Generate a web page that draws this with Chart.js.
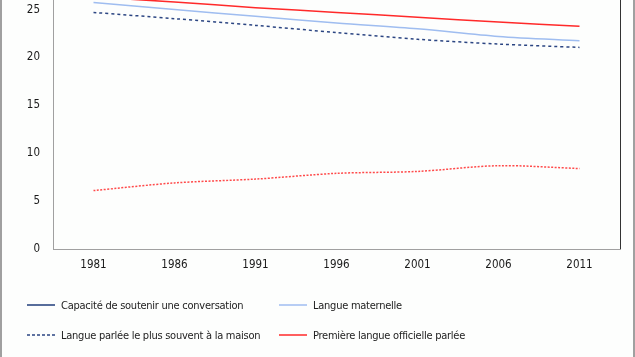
<!DOCTYPE html>
<html>
<head>
<meta charset="utf-8">
<script src="https://cdn.jsdelivr.net/npm/chart.js@4"></script>
<style>
  html, body { margin: 0; padding: 0; background: #fff; }
  #frame { position: relative; width: 635px; height: 357px; box-sizing: border-box;
           border-left: 2px solid #a0a0a0; border-right: 2px solid #a0a0a0; overflow: hidden; background:#fdfefd; }
  #wrap { position: absolute; left: -2px; top: 0; width: 635px; height: 275px; }
  #legend { position: absolute; left: 0; top: 0; width: 635px; height: 357px; pointer-events: none;
            font-family: "DejaVu Sans Condensed", "DejaVu Sans", sans-serif; font-size: 11px; color: #222; letter-spacing: -0.25px; }
  .item { position: absolute; display: flex; align-items: center; white-space: nowrap; }
  .sample { display: block; width: 28px; height: 4px; margin-right: 6px; }
</style>
</head>
<body>
<div id="frame">
  <div id="wrap"><canvas id="c" width="635" height="275"></canvas></div>
  <div id="legend"></div>
</div>
<script>
const years = ['1981', '1986', '1991', '1996', '2001', '2006', '2011'];
const capacite = [30.6, 30.0, 29.4, 28.9, 28.5, 28.0, 27.7];
const langueMaternelle = [25.75, 25.0, 24.3, 23.6, 23.0, 22.2, 21.75];
const langueMaison = [24.7, 24.05, 23.35, 22.6, 21.9, 21.4, 21.05];
const premiereLangue = [26.3, 25.8, 25.2, 24.7, 24.2, 23.7, 23.25];
const serieBasse = [6.1, 6.9, 7.3, 7.9, 8.1, 8.7, 8.4];
const yTicks = [0, 5, 10, 15, 20, 25];

const legendItems = [
  { label: 'Capacité de soutenir une conversation', color: '#1f3d7a', dash: false },
  { label: 'Langue maternelle', color: '#9fbdf0', dash: false },
  { label: 'Langue parlée le plus souvent à la maison', color: '#2b4582', dash: true },
  { label: 'Première langue officielle parlée', color: '#ff2a2a', dash: false }
];

const rightBorder = {
  id: 'rightBorder',
  afterDraw(chart) {
    const a = chart.chartArea, ctx = chart.ctx;
    ctx.save();
    ctx.strokeStyle = '#333';
    ctx.lineWidth = 1;
    ctx.beginPath();
    ctx.moveTo(Math.round(a.right) + 0.5, a.top);
    ctx.lineTo(Math.round(a.right) + 0.5, a.bottom);
    ctx.stroke();
    ctx.restore();
  }
};

const tickFont = { family: '"DejaVu Sans Condensed", "DejaVu Sans"', size: 11.5 };

new Chart(document.getElementById('c'), {
  type: 'line',
  data: {
    labels: years,
    datasets: [
      { label: legendItems[0].label, data: capacite, borderColor: legendItems[0].color, borderWidth: 1.5, tension: 0.3 },
      { label: legendItems[1].label, data: langueMaternelle, borderColor: legendItems[1].color, borderWidth: 1.5, tension: 0.3 },
      { label: legendItems[2].label, data: langueMaison, borderColor: legendItems[2].color, borderWidth: 1.5, borderDash: [3, 3], tension: 0.3 },
      { label: legendItems[3].label, data: premiereLangue, borderColor: legendItems[3].color, borderWidth: 1.5, tension: 0.3 },
      { label: 'Série 5', data: serieBasse, borderColor: '#ff4a4a', borderWidth: 1.5, borderDash: [2, 1.5], tension: 0.3 }
    ]
  },
  options: {
    responsive: false,
    animation: false,
    events: [],
    elements: { point: { radius: 0 } },
    layout: { padding: { left: 0, right: 15, top: 0, bottom: 0 } },
    plugins: { legend: { display: false }, tooltip: { enabled: false } },
    scales: {
      x: {
        offset: true,
        grid: { display: false, drawTicks: false },
        border: { display: true, color: '#a0a0a0', width: 1 },
        ticks: { padding: 9, color: '#1a1a1a', font: tickFont },
        afterFit(s) { s.height = 26; s.paddingLeft = 0; s.paddingRight = 0; }
      },
      y: {
        min: 0, max: 26,
        afterBuildTicks(s) { s.ticks = yTicks.map(v => ({ value: v })); },
        grid: { display: false, drawTicks: false },
        border: { display: true, color: '#a0a0a0', width: 1 },
        ticks: { padding: 13, color: '#1a1a1a', font: tickFont },
        afterFit(s) { s.width = 53; s.paddingTop = 0; s.paddingBottom = 0; }
      }
    }
  },
  plugins: [rightBorder]
});

const leg = document.getElementById('legend');
const pos = [[25, 305], [277, 305], [25, 335], [277, 335]];
const NS = 'http://www.w3.org/2000/svg';
legendItems.forEach((it, i) => {
  const d = document.createElement('div');
  d.className = 'item';
  d.style.left = pos[i][0] + 'px';
  d.style.top = (pos[i][1] - 8) + 'px';
  d.style.height = '16px';
  const svg = document.createElementNS(NS, 'svg');
  svg.setAttribute('class', 'sample');
  svg.setAttribute('width', '28');
  svg.setAttribute('height', '4');
  const ln = document.createElementNS(NS, 'line');
  ln.setAttribute('x1', '0'); ln.setAttribute('x2', '28');
  ln.setAttribute('y1', '2'); ln.setAttribute('y2', '2');
  ln.setAttribute('stroke', it.color);
  ln.setAttribute('stroke-width', '1.5');
  if (it.dash) ln.setAttribute('stroke-dasharray', '3 2');
  svg.appendChild(ln);
  const t = document.createElement('span');
  t.textContent = it.label;
  d.appendChild(svg); d.appendChild(t);
  leg.appendChild(d);
});
</script>
</body>
</html>
